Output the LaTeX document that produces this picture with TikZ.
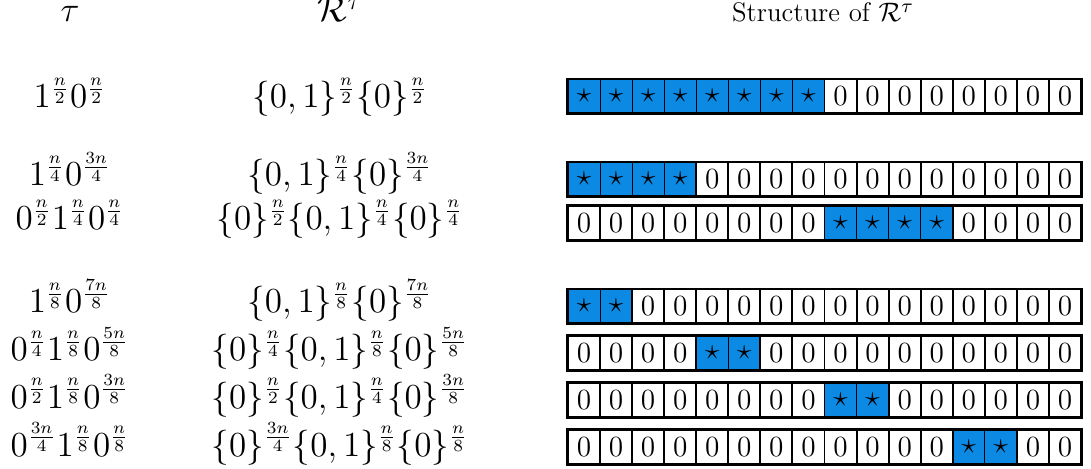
\documentclass[tikz,border=0pt]{standalone}
\usepackage{amsmath}
\usepackage{fontspec}
\definecolor{cellblue}{RGB}{12,137,227}
\begin{document}
\begin{tikzpicture}[x=0.41pt,y=-0.41pt,
  cell/.style={draw, line width=0.8pt, minimum width=13.145pt, minimum height=13.53pt, inner sep=0pt, font=\large, anchor=center},
  starcell/.style={cell, fill=cellblue, line width=0.4pt},
  frame/.style={draw, line width=0.9pt},
  formula/.style={anchor=base, font=\Large, inner sep=0pt},
  header/.style={anchor=base, inner sep=0pt}]
\useasboundingbox (0,0) rectangle (1091,469);

% headers
\node[header, font=\Large] (h1) at (70,22) {$\tau$};
\node[header, font=\Large] (h2) at (340,22) {$\mathcal{R}^\tau$};
\node[header, font=\fontsize{11}{13}\selectfont] (h3) at (823,22) {Structure of $\mathcal{R}^\tau$};

% formulas
\node[formula] (t1) at (70,108) {$1^{\frac{n}{2}}0^{\frac{n}{2}}$};
\node[formula] (r1) at (340,108) {$\{0,1\}^{\frac{n}{2}}\{0\}^{\frac{n}{2}}$};
\node[formula] (t2) at (70,186) {$1^{\frac{n}{4}}0^{\frac{3n}{4}}$};
\node[formula] (r2) at (340,186) {$\{0,1\}^{\frac{n}{4}}\{0\}^{\frac{3n}{4}}$};
\node[formula] (t3) at (70,230) {$0^{\frac{n}{2}}1^{\frac{n}{4}}0^{\frac{n}{4}}$};
\node[formula] (r3) at (340,230) {$\{0\}^{\frac{n}{2}}\{0,1\}^{\frac{n}{4}}\{0\}^{\frac{n}{4}}$};
\node[formula] (t4) at (70,313) {$1^{\frac{n}{8}}0^{\frac{7n}{8}}$};
\node[formula] (r4) at (340,313) {$\{0,1\}^{\frac{n}{8}}\{0\}^{\frac{7n}{8}}$};
\node[formula] (t5) at (70,361) {$0^{\frac{n}{4}}1^{\frac{n}{8}}0^{\frac{5n}{8}}$};
\node[formula] (r5) at (340,361) {$\{0\}^{\frac{n}{4}}\{0,1\}^{\frac{n}{8}}\{0\}^{\frac{5n}{8}}$};
\node[formula] (t6) at (70,408) {$0^{\frac{n}{2}}1^{\frac{n}{8}}0^{\frac{3n}{8}}$};
\node[formula] (r6) at (340,408) {$\{0\}^{\frac{n}{2}}\{0,1\}^{\frac{n}{4}}\{0\}^{\frac{3n}{8}}$};
\node[formula] (t7) at (70,456) {$0^{\frac{3n}{4}}1^{\frac{n}{8}}0^{\frac{n}{8}}$};
\node[formula] (r7) at (340,456) {$\{0\}^{\frac{3n}{4}}\{0,1\}^{\frac{n}{8}}\{0\}^{\frac{n}{8}}$};

% cell rows
\foreach \r/\y/\s/\n in {1/96/0/8, 2/179/0/4, 3/223/8/4, 4/306/0/2, 5/353/4/2, 6/400/8/2, 7/447/12/2} {
  \foreach \i in {0,...,15} {
    \pgfmathtruncatemacro\isstar{((\i>=\s)&&(\i<\s+\n))?1:0}
    \ifnum\isstar=1
      \node[starcell] (c\r-\i) at ({568+32.0625*(\i+0.5)},\y) {$\star$};
    \fi
  }
  \foreach \i in {0,...,15} {
    \pgfmathtruncatemacro\isstar{((\i>=\s)&&(\i<\s+\n))?1:0}
    \ifnum\isstar=0
      \node[cell] (c\r-\i) at ({568+32.0625*(\i+0.5)},\y) {0};
    \fi
  }
  \draw[frame] (c\r-0.north west) rectangle (c\r-15.south east);
}
\end{tikzpicture}
\end{document}
